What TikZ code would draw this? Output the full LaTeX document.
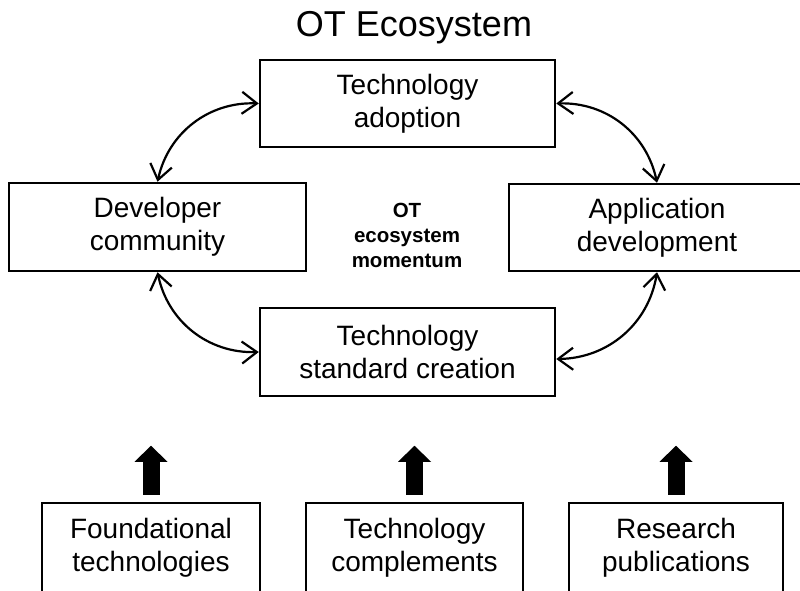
\documentclass[tikz,border=0pt]{standalone}
\usepackage{fontspec}
\setmainfont{Liberation Sans}
\usetikzlibrary{arrows.meta,positioning,calc}

\begin{document}
\begin{tikzpicture}[x=1pt,y=1pt,
   blk/.style={rectangle,draw=black,line width=2.5pt,minimum width=295pt,minimum height=87pt,inner sep=0pt,align=center,font=\fontsize{28}{33}\selectfont},
   src/.style={blk,minimum width=217pt,minimum height=89pt},
   link/.style={line width=2.2pt,{Straight Barb[length=15pt,width=22pt]}-{Straight Barb[length=15pt,width=22pt]}},
   push/.style={line width=17pt,-{Triangle[length=16pt,width=33pt,line width=0pt]}}]
   \useasboundingbox (0,0) rectangle (800,590);
   \node (title) [anchor=base,font=\fontsize{36}{40}\selectfont] at (414,553) {OT Ecosystem};
   \path (407.5,486.5) node (adopt) [blk] {Technology\\adoption}
         (157.5,363)   node (dev)   [blk,minimum width=297pt,minimum height=88pt] {Developer\\community}
         (657,362.5)   node (app)   [blk,minimum width=296pt] {Application\\development}
         (407.5,238)   node (std)   [blk,minimum height=88pt] {Technology\\standard creation};
   \node (momentum) [align=center,inner sep=0pt,font=\bfseries\fontsize{20.5}{25}\selectfont] at (407,354.5) {OT\\ecosystem\\momentum};
   % outer ring
   \draw [link] (adopt.west) to[bend right=40] (dev.north);
   \draw [link] (adopt.east) to[bend left=40] (app.north);
   \draw [link] (dev.south) to[bend right=40] (std.west);
   \draw [link] ([yshift=-7pt]std.east) to[bend right=40] (app.south);
   % inputs
   \path (151,42.5)   node (found) [src,minimum width=218pt] {Foundational\\technologies}
         (414.5,42.5) node (compl) [src] {Technology\\complements}
         (676,42.5)   node (res)   [src,minimum width=214pt] {Research\\publications};
   \foreach \n in {found,compl,res}
      \draw [push] ([yshift=7pt]\n.north) -- ([yshift=56pt]\n.north);
\end{tikzpicture}
\end{document}
